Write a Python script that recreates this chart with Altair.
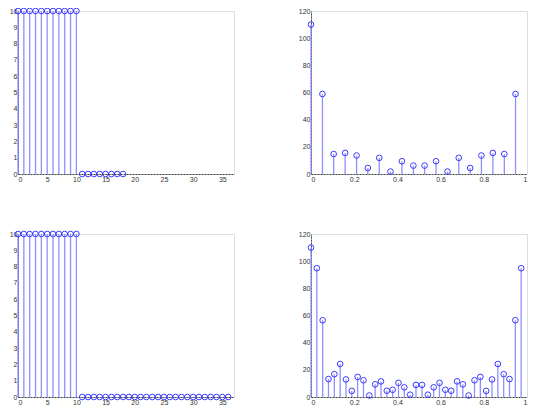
import altair as alt
import pandas as pd

# ---- data ----
n_top = list(range(19))
x_top = [10, 10, 10, 10, 10, 10, 10, 10, 10, 10, 10, 0, 0, 0, 0, 0, 0, 0, 0]

f_top = [0.0, 0.053, 0.105, 0.158, 0.211, 0.263, 0.316, 0.368, 0.421, 0.474,
         0.526, 0.579, 0.632, 0.684, 0.737, 0.789, 0.842, 0.895, 0.947]
X_top = [110, 58.9, 14.7, 15.5, 13.6, 4.4, 11.9, 1.8, 9.4, 6.2,
         6.2, 9.4, 1.8, 11.9, 4.4, 13.6, 15.5, 14.7, 58.9]

n_bot = list(range(37))
x_bot = [10, 10, 10, 10, 10, 10, 10, 10, 10, 10, 10,
         0, 0, 0, 0, 0, 0, 0, 0, 0, 0, 0, 0, 0, 0, 0, 0, 0,
         0, 0, 0, 0, 0, 0, 0, 0, 0]

f_bot = [0.0, 0.027, 0.054, 0.081, 0.108, 0.135, 0.162, 0.189, 0.216, 0.243,
         0.270, 0.297, 0.324, 0.351, 0.378, 0.405, 0.432, 0.459, 0.486, 0.514,
         0.541, 0.568, 0.595, 0.622, 0.649, 0.676, 0.703, 0.730, 0.757, 0.784,
         0.811, 0.838, 0.865, 0.892, 0.919, 0.946, 0.973]
X_bot = [110, 94.8, 56.5, 13.2, 16.8, 24.3, 12.9, 4.5, 14.8, 12.3,
         1.1, 9.3, 11.5, 4.6, 5.3, 10.4, 7.1, 1.7, 8.9, 8.9,
         1.7, 7.1, 10.4, 5.3, 4.6, 11.5, 9.3, 1.1, 12.3, 14.8,
         4.5, 12.9, 24.3, 16.8, 13.2, 56.5, 94.8]

time_ticks = [0, 5, 10, 15, 20, 25, 30, 35]
time_y_ticks = [0, 1, 2, 3, 4, 5, 6, 7, 8, 9, 10]
freq_ticks = [0, 0.2, 0.4, 0.6, 0.8, 1]
mag_ticks = [0, 20, 40, 60, 80, 100, 120]

W, H = 216, 163
STEM = "#8a8aff"
MARK = "#3a3aff"

axis_common = dict(labelFontSize=7, labelColor="#333", labelFont="Liberation Sans",
                   tickSize=0, labelPadding=1,
                   domainColor="#444", domainDash=[2, 1], grid=False, title=None)


def stem(xs, ys, xdom, xticks, ydom, yticks, xfmt=None):
    df = pd.DataFrame({"x": xs, "y": ys})
    xax = alt.Axis(values=xticks, **axis_common) if xfmt is None else \
        alt.Axis(values=xticks, labelExpr="datum.value == 0 ? '0' : datum.value == 1 ? '1' : format(datum.value, '.1f')", **axis_common)
    xenc = alt.X("x:Q", scale=alt.Scale(domain=xdom, nice=False, zero=False), axis=xax)
    yenc = alt.Y("y:Q", scale=alt.Scale(domain=ydom, nice=False), axis=alt.Axis(values=yticks, **axis_common))
    base = alt.Chart(df)
    rules = base.mark_rule(color=STEM, strokeWidth=1.3, opacity=0.95).encode(
        x=xenc, y=yenc, y2=alt.datum(0))
    pts = base.mark_point(shape="circle", size=32, color=MARK, strokeWidth=1, filled=False, opacity=1).encode(
        x=xenc, y=yenc)
    return alt.layer(rules, pts).properties(width=W, height=H)


tl = stem(n_top, x_top, [0, 37], time_ticks, [0, 10], time_y_ticks)
tr = stem(f_top, X_top, [0, 1], freq_ticks, [0, 120], mag_ticks, xfmt=True)
bl = stem(n_bot, x_bot, [0, 37], time_ticks, [0, 10], time_y_ticks)
br = stem(f_bot, X_bot, [0, 1], freq_ticks, [0, 120], mag_ticks, xfmt=True)

chart = alt.vconcat(
    alt.hconcat(tl, tr, spacing=62),
    alt.hconcat(bl, br, spacing=62),
    spacing=45,
).properties(padding={"left": 0, "top": -3, "right": 0, "bottom": 0}).configure_view(
    stroke="#333", strokeDash=[2, 1], strokeWidth=1
).configure(background="white")

chart.save("out.html", embed_options={"renderer": "svg", "actions": False})
